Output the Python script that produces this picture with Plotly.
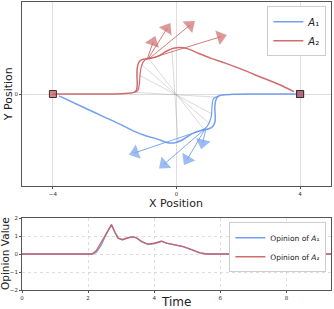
import numpy as np
import plotly.graph_objects as go

# ---------------- data ----------------
# Agent A2 (red) trajectory
red_x = [-4.0, -3.0, -2.4, -1.8, -1.5, -1.36, -1.29, -1.27, -1.28, -1.27, -1.22, -1.12, -0.98,
         -0.8, -0.62, -0.45, -0.28, -0.1, 0.1, 0.35, 0.7, 1.1, 1.6, 2.2, 2.8, 3.3, 3.8]
red_y = [0.0, 0.0, 0.0, 0.01, 0.03, 0.06, 0.15, 0.35, 0.6, 0.85, 1.03, 1.12, 1.15,
         1.17, 1.22, 1.32, 1.42, 1.49, 1.52, 1.48, 1.33, 1.17, 1.0, 0.77, 0.52, 0.32, 0.08]
red_alt_x = [-1.36, -1.25, -1.2, -1.18, -1.13, -1.05, -0.95, -0.84]
red_alt_y = [0.06, 0.12, 0.35, 0.65, 0.92, 1.08, 1.15, 1.19]

# Agent A1 (blue) trajectory
blue_x = [4.0, 3.0, 2.4, 1.8, 1.5, 1.36, 1.28, 1.24, 1.25, 1.25, 1.18, 1.05, 0.85,
          0.6, 0.4, 0.2, 0.0, -0.15, -0.35, -0.62, -1.0, -1.4, -1.8, -2.4, -3.0, -3.8]
blue_y = [0.0, 0.0, 0.0, -0.01, -0.03, -0.07, -0.18, -0.4, -0.65, -0.88, -1.05, -1.13, -1.17,
          -1.25, -1.36, -1.49, -1.57, -1.6, -1.57, -1.47, -1.36, -1.2, -1.0, -0.72, -0.44, -0.06]
blue_alt_x = [1.36, 1.2, 1.15, 1.13, 1.05, 0.95, 0.85]
blue_alt_y = [-0.07, -0.15, -0.4, -0.7, -0.95, -1.1, -1.17]

# connecting lines (A2 position -> A1 position at same time)
link_red_x = [-1.3, -1.22, -1.12, -0.9, -0.15]
link_red_y = [0.05, 0.62, 0.95, 1.15, 1.45]
link_blue_x = [1.25, 1.15, 1.05, 0.9, 0.05]
link_blue_y = [-0.1, -0.65, -0.95, -1.17, -1.55]

# heading arrows (start -> tip)
red_arr_x0 = [-0.95, -0.92, -0.88, -0.85]
red_arr_y0 = [1.13, 1.15, 1.16, 1.16]
red_arr_x1 = [-0.71, -0.23, 0.55, 1.57]
red_arr_y1 = [1.83, 2.26, 2.34, 1.91]
blue_arr_x0 = [0.95, 0.92, 0.9, 0.88]
blue_arr_y0 = [-1.15, -1.15, -1.16, -1.16]
blue_arr_x1 = [0.81, 0.27, -0.52, -1.48]
blue_arr_y1 = [-1.74, -2.26, -2.39, -1.96]

# start markers
start_x = [-4.0, 4.0]
start_y = [0.0, 0.0]

# opinions over time
t = [0.0, 2.13, 2.25, 2.4, 2.56, 2.71, 2.81, 2.91, 3.04, 3.21, 3.36, 3.46, 3.62, 3.82,
     4.02, 4.22, 4.37, 4.63, 4.88, 5.13, 5.38, 5.59, 9.35]
op_a2 = [0.0, 0.0, 0.19, 0.65, 1.21, 1.63, 1.21, 0.88, 0.79, 0.9, 0.95, 0.9, 0.69, 0.54,
         0.6, 0.71, 0.6, 0.5, 0.41, 0.24, 0.06, 0.0, 0.0]
op_a1 = [0.0, 0.0, 0.1, 0.5, 1.15, 1.63, 1.21, 0.88, 0.79, 0.9, 0.95, 0.9, 0.69, 0.54,
         0.6, 0.71, 0.6, 0.5, 0.41, 0.24, 0.06, 0.0, 0.0]

xticks_top = [-4, 0, 4]
yticks_top = [0]
xticks_bot = [0, 2, 4, 6, 8]
yticks_bot = [-2, -1, 0, 1, 2]

BLUE = "rgba(100,149,237,0.9)"
RED = "rgba(205,92,92,0.9)"
BLUE_S = "#6495ED"
RED_S = "#CD5C5C"

fig = go.Figure()

# connecting gray lines
for i in range(len(link_red_x)):
    fig.add_trace(go.Scatter(x=[link_red_x[i], link_blue_x[i]], y=[link_red_y[i], link_blue_y[i]],
                             mode="lines", line=dict(color="rgba(150,150,150,0.45)", width=0.8),
                             showlegend=False, hoverinfo="skip", xaxis="x", yaxis="y"))

# trajectories
fig.add_trace(go.Scatter(x=blue_x, y=blue_y, mode="lines", line=dict(color=BLUE, width=1.5, shape="spline"),
                         name="<i>A</i>₁", legend="legend", xaxis="x", yaxis="y"))
fig.add_trace(go.Scatter(x=blue_alt_x, y=blue_alt_y, mode="lines", line=dict(color=BLUE, width=1.2, shape="spline"),
                         showlegend=False, xaxis="x", yaxis="y"))
fig.add_trace(go.Scatter(x=red_x, y=red_y, mode="lines", line=dict(color=RED, width=1.5, shape="spline"),
                         name="<i>A</i>₂", legend="legend", xaxis="x", yaxis="y"))
fig.add_trace(go.Scatter(x=red_alt_x, y=red_alt_y, mode="lines", line=dict(color=RED, width=1.2, shape="spline"),
                         showlegend=False, xaxis="x", yaxis="y"))

# arrows
def add_arrows(x0s, y0s, x1s, y1s, col):
    for x0, y0, x1, y1 in zip(x0s, y0s, x1s, y1s):
        dx, dy = x1 - x0, y1 - y0
        L = np.hypot(dx, dy)
        back = 0.15
        xm, ym = x1 - dx / L * back, y1 - dy / L * back
        fig.add_trace(go.Scatter(x=[x0, xm], y=[y0, ym], mode="lines+markers",
                                 line=dict(color=col, width=0.9),
                                 marker=dict(symbol="triangle-up", size=[0, 13], angleref="previous",
                                             color=col, line=dict(width=0)),
                                 opacity=0.9, showlegend=False, hoverinfo="skip",
                                 xaxis="x", yaxis="y"))

add_arrows(red_arr_x0, red_arr_y0, red_arr_x1, red_arr_y1, RED_S)
add_arrows(blue_arr_x0, blue_arr_y0, blue_arr_x1, blue_arr_y1, BLUE_S)

# start markers
fig.add_trace(go.Scatter(x=[start_x[1]], y=[start_y[1]], mode="markers",
                         marker=dict(symbol="square", size=7, color=BLUE_S, line=dict(color="#333", width=1)),
                         showlegend=False, xaxis="x", yaxis="y"))
fig.add_trace(go.Scatter(x=start_x, y=start_y, mode="markers",
                         marker=dict(symbol="square", size=7, color="rgba(205,92,92,0.75)",
                                     line=dict(color="#333", width=1)),
                         showlegend=False, xaxis="x", yaxis="y"))

# opinions
fig.add_trace(go.Scatter(x=t, y=op_a1, mode="lines", line=dict(color=BLUE, width=1.4),
                         name="Opinion of <i>A</i>₁", legend="legend2", xaxis="x2", yaxis="y2"))
fig.add_trace(go.Scatter(x=t, y=op_a2, mode="lines", line=dict(color=RED, width=1.4),
                         name="Opinion of <i>A</i>₂", legend="legend2", xaxis="x2", yaxis="y2"))

axis_common = dict(showline=True, linecolor="#555", linewidth=1, mirror=True, ticks="outside",
                   ticklen=2, tickcolor="#555", tickfont=dict(size=5.5, color="#333"), zeroline=False,
                   gridcolor="rgba(200,200,200,0.6)", gridwidth=0.8, automargin=False)

fig.update_layout(
    width=334, height=309,
    margin=dict(l=22, r=3, t=2, b=19),
    plot_bgcolor="white", paper_bgcolor="white",
    font=dict(family="DejaVu Sans", color="#222"),
    xaxis=dict(domain=[0, 1], range=[-5, 5], tickvals=xticks_top, anchor="y", **axis_common),
    yaxis=dict(domain=[0.361, 1], range=[-3, 3], tickvals=yticks_top, anchor="x", **axis_common),
    xaxis2=dict(domain=[0, 1], range=[0, 9.35], tickvals=xticks_bot, anchor="y2", griddash="dot",
                **axis_common),
    yaxis2=dict(domain=[0, 0.25], range=[-2, 2], tickvals=yticks_bot, anchor="x2", griddash="dot",
                **axis_common),
    legend=dict(x=0.985, y=0.985, xanchor="right", yanchor="top", bgcolor="white",
                bordercolor="#ccc", borderwidth=1, font=dict(size=10), itemwidth=30,
                tracegroupgap=0),
    legend2=dict(x=0.985, y=0.235, xanchor="right", yanchor="top", bgcolor="white",
                 bordercolor="#ccc", borderwidth=1, font=dict(size=7.5), itemwidth=30,
                 tracegroupgap=0),
    annotations=[
        dict(text="X Position", x=0.498, y=0.3, xref="paper", yref="paper", showarrow=False,
             font=dict(size=11), xanchor="center", yanchor="middle"),
        dict(text="Y Position", x=-0.045, y=0.68, xref="paper", yref="paper", showarrow=False,
             font=dict(size=11), textangle=-90, xanchor="center", yanchor="middle"),
        dict(text="Time", x=0.498, y=-0.042, xref="paper", yref="paper", showarrow=False,
             font=dict(size=12), xanchor="center", yanchor="middle"),
        dict(text="Opinion Value", x=-0.055, y=0.125, xref="paper", yref="paper", showarrow=False,
             font=dict(size=10.5), textangle=-90, xanchor="center", yanchor="middle"),
    ],
)

fig.write_html("out.html", config={"displayModeBar": False},
               post_script="document.body.style.margin='0';document.body.style.padding='0';")
